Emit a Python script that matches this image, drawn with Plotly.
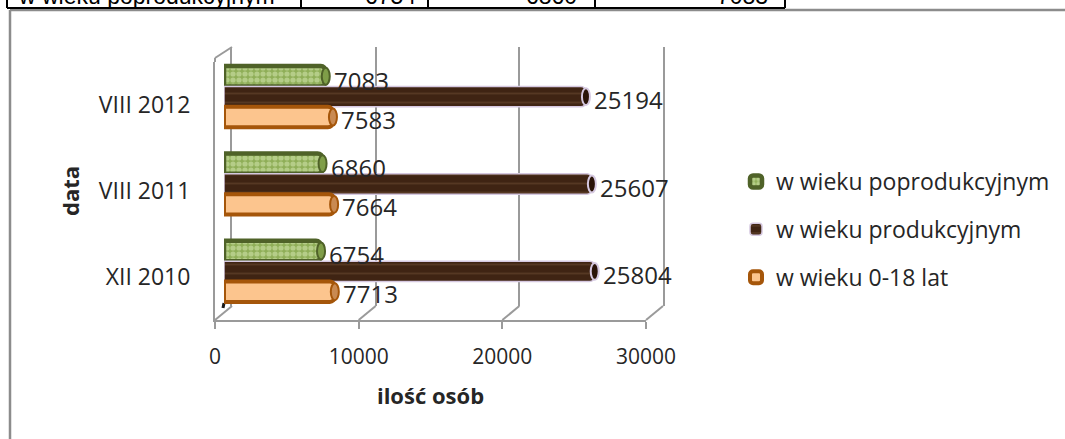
import plotly.graph_objects as go

W, H = 1065, 439
categories = ["VIII 2012", "VIII 2011", "XII 2010"]
poprodukcyjny = [7083, 6860, 6754]
produkcyjny = [25194, 25607, 25804]
przedprodukcyjny = [7583, 7664, 7713]
x_ticks = [0, 10000, 20000, 30000]
table_row = ["w wieku poprodukcyjnym", "6754", "6860", "7083"]

FONT = "Open Sans"
TXT = "#262626"
GRID = "#9a9a9a"


def px(v):
    return v / W


def py(v):
    return 1 - v / H


series = [
    ("w wieku poprodukcyjnym", poprodukcyjny, "#B9D584", "#4F6228", 4.5,
     dict(shape=".", fgcolor="#DCEBB8", bgcolor="#8FAE58", size=6, solidity=0.6), "#7F9E48", "#4F6228", -4),
    ("w wieku produkcyjnym", produkcyjny, "#4A2C1A", "#D5C8E0", 1.5,
     dict(shape="-", fgcolor="#6E4C34", bgcolor="#3F2413", size=9, solidity=0.2), "#2A1408", "#D5C8E0", -3),
    ("w wieku 0-18 lat", przedprodukcyjny, "#FCC58E", "#A5560A", 4, None, "#C98A52", "#A5560A", -2),
]

fig = go.Figure()
for name, vals, fill, line, lw, pat, capfill, capline, dy in series:
    fig.add_trace(go.Bar(
        y=categories, x=vals, orientation="h", name=name,
        xaxis="x3", yaxis="y3", legendgroup=name,
        marker=dict(color=fill, line=dict(color=line, width=lw), pattern=pat, cornerradius=5),
        cliponaxis=False,
    ))

fig.update_layout(
    width=W, height=H, autosize=False, margin=dict(l=0, r=0, t=0, b=0),
    paper_bgcolor="white", plot_bgcolor="rgba(0,0,0,0)",
    font=dict(family=FONT, color=TXT),
    barmode="group", bargap=0.3, bargroupgap=0,
    legend=dict(x=px(736), y=py(160), xanchor="left", yanchor="top",
                traceorder="grouped", tracegroupgap=15,
                font=dict(family=FONT, size=23, color=TXT)),
    # front axes: ticks and labels
    xaxis=dict(domain=[px(215), px(646)], range=[0, 30000], anchor="y",
               tickvals=x_ticks, tickformat="d", showgrid=False, showline=True,
               linecolor=GRID, linewidth=2, zeroline=False,
               ticks="outside", tickcolor=GRID, ticklen=7, tickwidth=2, ticklabelstandoff=10,
               tickfont=dict(family=FONT, size=21, color=TXT), automargin=False,
               title=dict(text="<b>ilość osób</b>", font=dict(family=FONT, size=22, color=TXT), standoff=19)),
    yaxis=dict(domain=[py(320), py(62)], range=[2.5, -0.5], anchor="x",
               tickvals=[0, 1, 2], ticktext=categories, showgrid=False,
               showline=True, linecolor=GRID, linewidth=2, zeroline=False,
               ticks="", ticklabelstandoff=18,
               tickfont=dict(family=FONT, size=23, color=TXT), automargin=False,
               title=dict(text="<b>data</b>", font=dict(family=FONT, size=22, color=TXT), standoff=13)),
    # back wall: gridlines
    xaxis2=dict(domain=[px(232), px(663)], range=[0, 30000], anchor="y2", tickvals=x_ticks,
                showticklabels=False, showgrid=True, gridcolor=GRID, gridwidth=2, zeroline=False),
    yaxis2=dict(domain=[py(306), py(47)], range=[0, 1], anchor="x2", showticklabels=False,
                showgrid=False, zeroline=False, showline=True, mirror=True,
                linecolor=GRID, linewidth=2),
    # mid-depth axes: bars
    xaxis3=dict(domain=[px(224), px(655)], range=[0, 30000], anchor="y3", visible=False),
    yaxis3=dict(domain=[py(315), py(53)], type="category", categoryorder="array",
                categoryarray=categories, range=[2.5, -0.5], anchor="x3", visible=False),
)

# invisible traces so the front and back axes exist
fig.add_trace(go.Scatter(x=[0], y=[0], xaxis="x", yaxis="y", mode="markers",
                         marker=dict(opacity=0), showlegend=False, hoverinfo="skip"))
fig.add_trace(go.Scatter(x=[0], y=[0], xaxis="x2", yaxis="y2", mode="markers",
                         marker=dict(opacity=0), showlegend=False, hoverinfo="skip"))

shapes = []
anns = []


def seg(x0, y0, x1, y1, color=GRID, width=2):
    shapes.append(dict(type="line", xref="paper", yref="paper", x0=px(x0), y0=py(y0),
                       x1=px(x1), y1=py(y1), line=dict(color=color, width=width), layer="below"))


# floor slants and wall top
for i in range(len(x_ticks)):
    fx = 215 + 431 * i / 3
    seg(fx, 320, fx + 17, 306)
seg(215, 62, 215, 58)
seg(215, 58, 232, 47)
seg(224, 303, 223, 308, "#1a1a1a", 3)
# bar end caps and data labels, in data coordinates
n = len(series)
slot = 0.7 / n
for s, (name, vals, fill, line, lw, pat, capfill, capline, dy) in enumerate(series):
    for c, v in enumerate(vals):
        yc = c - 0.35 + slot * (s + 0.5)
        shapes.append(dict(type="circle", xref="x3", yref="y3", xsizemode="pixel", xanchor=v,
                           x0=-4, x1=4, y0=yc - slot / 2 + 0.02, y1=yc + slot / 2 - 0.02,
                           fillcolor=capfill, line=dict(color=capline, width=2),
                           layer="above"))
        anns.append(dict(text=str(v), xref="x3", yref="y3", x=v, y=yc, xanchor="left",
                         xshift=6, yshift=dy, showarrow=False,
                         font=dict(family=FONT, size=24, color=TXT)))
# outer frame
seg(10, 10, 1065, 10, "#8c8c8c", 2.5)
seg(10, 10, 10, 439, "#8c8c8c", 2.5)
# clipped table at the top
for xv in [7, 301, 428, 595, 785]:
    seg(xv, 0, xv, 8, "black", 2)
seg(7, 8, 785, 8, "black", 2)
fig.update_layout(shapes=shapes)

for text, xv, anchor in zip(table_row, [16, 418, 579, 770], ["left", "right", "right", "right"]):
    anns.append(dict(text=text, xref="paper", yref="paper", x=px(xv), y=py(11), yanchor="bottom",
                     xanchor=anchor, showarrow=False, font=dict(family="Liberation Sans", size=23, color="black")))
fig.update_layout(annotations=anns)

fig.write_html("out.html", config=dict(displayModeBar=False),
               post_script="document.body.style.margin='0';document.body.style.overflow='hidden';")
